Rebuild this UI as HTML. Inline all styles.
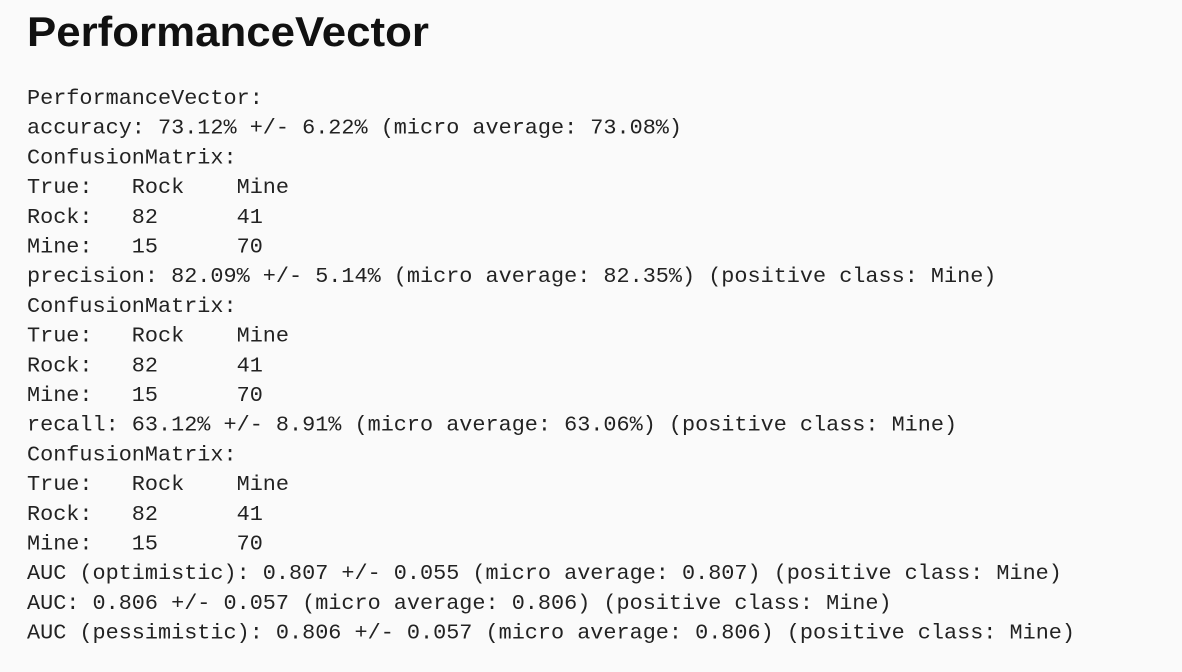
<!DOCTYPE html>
<html><head><meta charset="utf-8"><style>
html,body{margin:0;padding:0;background:#fafafa;}
svg{display:block;}
.m{font-family:"Liberation Mono","DejaVu Sans Mono",monospace;font-size:21.5px;fill:#222;white-space:pre;}
</style></head><body>
<svg width="1182" height="672">
<rect width="1182" height="672" fill="#fafafa"/>
<text x="27" y="46" textLength="402" lengthAdjust="spacingAndGlyphs" font-family="'Liberation Sans',sans-serif" font-weight="bold" font-size="42" fill="#111">PerformanceVector</text>
<g id="lines"></g>
</svg>
<script>
const lines=[
"PerformanceVector:",
"accuracy: 73.12% +/- 6.22% (micro average: 73.08%)",
"ConfusionMatrix:",
"True:   Rock    Mine",
"Rock:   82      41",
"Mine:   15      70",
"precision: 82.09% +/- 5.14% (micro average: 82.35%) (positive class: Mine)",
"ConfusionMatrix:",
"True:   Rock    Mine",
"Rock:   82      41",
"Mine:   15      70",
"recall: 63.12% +/- 8.91% (micro average: 63.06%) (positive class: Mine)",
"ConfusionMatrix:",
"True:   Rock    Mine",
"Rock:   82      41",
"Mine:   15      70",
"AUC (optimistic): 0.807 +/- 0.055 (micro average: 0.807) (positive class: Mine)",
"AUC: 0.806 +/- 0.057 (micro average: 0.806) (positive class: Mine)",
"AUC (pessimistic): 0.806 +/- 0.057 (micro average: 0.806) (positive class: Mine)"
];
const g=document.getElementById('lines');
lines.forEach((s,i)=>{
const t=document.createElementNS('http://www.w3.org/2000/svg','text');
t.setAttribute('x',27);
t.setAttribute('y',104+i*29.7);
t.setAttribute('class','m');
t.setAttribute('textLength',(s.length*13.1).toFixed(1));
t.setAttribute('lengthAdjust','spacingAndGlyphs');


t.textContent=s;
g.appendChild(t);
});
</script>
</body></html>
